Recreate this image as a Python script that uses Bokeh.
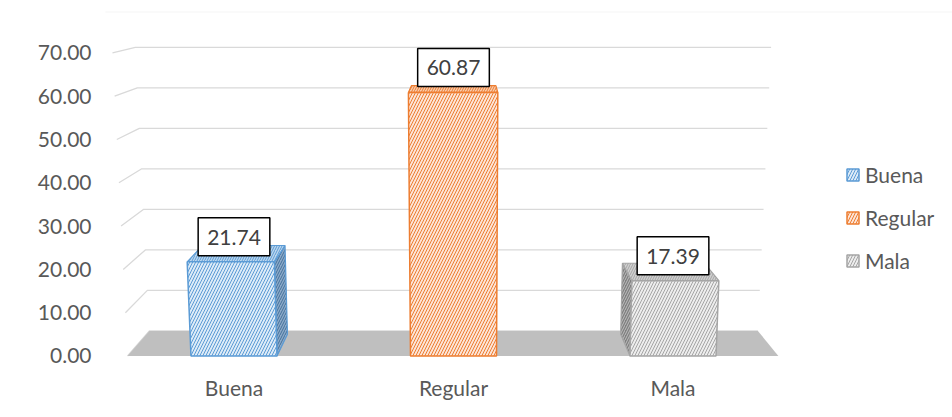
from bokeh.plotting import figure
from bokeh.models import (Range1d, FixedTicker, NumeralTickFormatter, ColumnDataSource,
                          Legend, LegendItem, BoxAnnotation)
from bokeh.core.properties import value
from bokeh.embed import file_html
from bokeh.resources import INLINE

# ---- data ----
categories = ["Buena", "Regular", "Mala"]
values = [21.74, 60.87, 17.39]
y_ticks = [0, 10, 20, 30, 40, 50, 60, 70]

# ---- styling ----
edge_colors = ["#5B9BD5", "#ED7D31", "#A5A5A5"]
front_fills = ["#DDEBF7", "#FCE4D6", "#EDEDED"]
top_fills = ["#BDD7EE", "#F8CBAD", "#D0D0D0"]
side_fills = ["#8EAAC8", "#C55A11", "#7F7F7F"]
side_hatch = ["#41719C", "#F4B183", "#BFBFBF"]
FONT = "Lato"
TEXT_COLOR = "#595959"

# ---- 3-D look: simple perspective toward a vanishing point (data units) ----
VX, VY = 1.0456, 89.26      # vanishing point
LEAN = 0.00064              # slight convergence of vertical edges
WALL_DEPTH = 0.065          # back wall depth
BAR_DEPTH = 0.056           # column depth
FLOOR_X0, FLOOR_X1 = -0.485, 2.48
HALF = 0.196                # half column width (category units)


def project(x0, v, t):
    x = VX + (x0 - VX) * (1 + LEAN * v)
    return x + t * (VX - x), v + t * (VY - v)


def poly(points):
    return [p[0] for p in points], [p[1] for p in points]


p = figure(width=952, height=417, output_backend="svg", toolbar_location=None,
           x_range=Range1d(-0.5854, 3.2733), y_range=Range1d(-2.425, 82.10),
           min_border_left=105, min_border_right=0, min_border_top=0,
           min_border_bottom=51)
p.outline_line_color = None
p.grid.visible = False
p.background_fill_color = "white"
p.border_fill_color = "white"

# chart-area border
p.add_layout(BoxAnnotation(left=8.5, right=1200, top=11.5, bottom=1200,
                           left_units="canvas", right_units="canvas",
                           top_units="canvas", bottom_units="canvas",
                           fill_alpha=0, line_color="#D9D9D9", line_width=1,
                           level="underlay"))

# ---- gridlines on side wall and back wall ----
gx, gy = [], []
for v in y_ticks:
    a = project(FLOOR_X0, v, 0)
    b = project(FLOOR_X0, v, WALL_DEPTH)
    c = project(FLOOR_X1, v, WALL_DEPTH)
    gx.append([a[0], b[0], c[0]])
    gy.append([a[1], b[1], c[1]])
p.multi_line(gx, gy, line_color="#D9D9D9", line_width=1.3)

# ---- floor ----
fx, fy = poly([project(FLOOR_X0, 0, 0), project(FLOOR_X0, 0, WALL_DEPTH),
               project(FLOOR_X1, 0, WALL_DEPTH), project(FLOOR_X1, 0, 0)])
p.patch(fx, fy, fill_color="#BFBFBF", line_color=None)

# ---- columns ----
legend_items = []
for i, (cat, v) in enumerate(zip(categories, values)):
    left, right = i - HALF, i + HALF
    # side face
    side = None
    if right < VX:
        side = [project(right, 0, 0), project(right, v, 0),
                project(right, v, BAR_DEPTH), project(right, 0, BAR_DEPTH)]
    elif left > VX:
        side = [project(left, 0, 0), project(left, v, 0),
                project(left, v, BAR_DEPTH), project(left, 0, BAR_DEPTH)]
    if side:
        sx, sy = poly(side)
        p.patch(sx, sy, fill_color=side_fills[i], hatch_pattern="/",
                hatch_color=side_hatch[i], hatch_scale=5, hatch_weight=1,
                line_color=edge_colors[i], line_width=1.2)
    # top face
    tx, ty = poly([project(left, v, 0), project(right, v, 0),
                   project(right, v, BAR_DEPTH), project(left, v, BAR_DEPTH)])
    p.patch(tx, ty, fill_color=top_fills[i], hatch_pattern="/",
            hatch_color=edge_colors[i], hatch_scale=5, hatch_weight=1,
            line_color=edge_colors[i], line_width=1.2)
    # front face
    ox, oy = poly([project(left, 0, 0), project(right, 0, 0),
                   project(right, v, 0), project(left, v, 0)])
    r = p.patch(ox, oy, fill_color=front_fills[i], hatch_pattern="/",
                hatch_color=edge_colors[i], hatch_scale=6, hatch_weight=1,
                line_color=edge_colors[i], line_width=1.5)
    legend_items.append(LegendItem(label=cat, renderers=[r]))

# ---- data labels ----
lab = ColumnDataSource(dict(x=list(range(len(categories))), y=values,
                            text=[f"{v:.2f}" for v in values]))
p.text(x="x", y="y", text="text", source=lab, text_align="center",
       text_baseline="middle", y_offset=-25, text_font=value(FONT),
       text_font_size="21px", text_color="#404040",
       background_fill_color="white", border_line_color="black",
       border_line_width=1.5,
       padding=dict(left=9, right=9, top=12, bottom=11))

# ---- axes ----
p.xaxis.ticker = FixedTicker(ticks=list(range(len(categories))))
p.xaxis.major_label_overrides = {i: c for i, c in enumerate(categories)}
p.yaxis.ticker = FixedTicker(ticks=y_ticks)
p.yaxis.formatter = NumeralTickFormatter(format="0.00")
for ax in (p.xaxis, p.yaxis):
    ax.axis_line_color = None
    ax.major_tick_line_color = None
    ax.minor_tick_line_color = None
    ax.major_label_text_font = FONT
    ax.major_label_text_font_size = "21px"
    ax.major_label_text_color = TEXT_COLOR
p.yaxis.major_label_standoff = 8
p.xaxis.major_label_standoff = 2

# ---- legend ----
legend = Legend(items=legend_items, location=(740, 93), orientation="vertical",
                glyph_width=15, glyph_height=15, label_height=26, spacing=17,
                label_standoff=5, padding=0, margin=0,
                border_line_color=None, background_fill_alpha=0,
                label_text_font=FONT, label_text_font_size="21px",
                label_text_color=TEXT_COLOR)
p.add_layout(legend)

open("out.html", "w").write(file_html(p, INLINE))
